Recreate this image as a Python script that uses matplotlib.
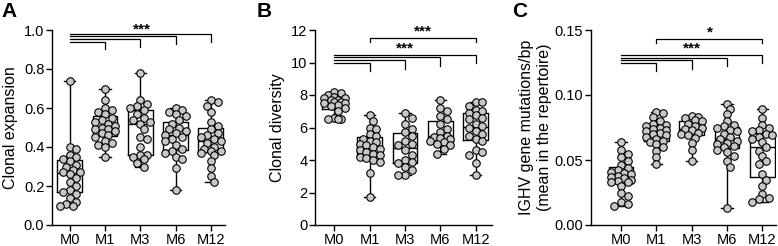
import numpy as np
import matplotlib
matplotlib.use("Agg")
import matplotlib.pyplot as plt

plt.rcParams['font.family'] = ['Liberation Sans', 'DejaVu Sans']

groups = ["M0", "M1", "M3", "M6", "M12"]

expansion = {
    "M0": [0.74, 0.40, 0.39, 0.36, 0.35, 0.34, 0.33, 0.31, 0.30, 0.28, 0.27, 0.27, 0.26,
           0.24, 0.22, 0.20, 0.18, 0.17, 0.16, 0.14, 0.12, 0.11, 0.10, 0.10],
    "M1": [0.70, 0.64, 0.60, 0.59, 0.58, 0.57, 0.55, 0.54, 0.53, 0.52, 0.51, 0.50, 0.49,
           0.49, 0.48, 0.47, 0.46, 0.45, 0.43, 0.42, 0.41, 0.40, 0.35],
    "M3": [0.78, 0.64, 0.62, 0.61, 0.60, 0.59, 0.57, 0.55, 0.54, 0.53, 0.52, 0.49, 0.45,
           0.44, 0.40, 0.36, 0.36, 0.35, 0.34, 0.32, 0.30],
    "M6": [0.60, 0.59, 0.58, 0.57, 0.56, 0.54, 0.52, 0.50, 0.49, 0.48, 0.47, 0.46, 0.45,
           0.44, 0.43, 0.41, 0.39, 0.38, 0.37, 0.35, 0.34, 0.29, 0.18],
    "M12": [0.64, 0.63, 0.61, 0.58, 0.53, 0.51, 0.49, 0.47, 0.46, 0.45, 0.44, 0.43, 0.42,
            0.40, 0.39, 0.38, 0.38, 0.37, 0.36, 0.33, 0.29, 0.25, 0.22],
}

diversity = {
    "M0": [8.2, 8.1, 8.0, 7.9, 7.8, 7.8, 7.7, 7.7, 7.6, 7.6, 7.5, 7.5, 7.4, 7.3, 7.2,
           7.0, 6.6, 6.5, 6.5, 6.5],
    "M1": [6.75, 6.4, 6.0, 5.9, 5.6, 5.5, 5.3, 5.2, 5.1, 5.0, 4.9, 4.8, 4.7, 4.6, 4.5,
           4.4, 4.3, 4.2, 4.1, 4.0, 3.9, 3.2, 1.75],
    "M3": [6.9, 6.6, 6.2, 5.9, 5.7, 5.5, 5.2, 5.0, 4.9, 4.6, 4.3, 4.0, 3.9, 3.8, 3.6,
           3.4, 3.1, 3.1],
    "M6": [7.7, 7.2, 7.0, 6.7, 6.5, 6.2, 5.9, 5.7, 5.5, 5.4, 5.35, 5.3, 5.2, 5.1, 5.0,
           4.9, 4.7, 4.4],
    "M12": [7.6, 7.55, 7.3, 7.1, 7.0, 6.9, 6.8, 6.6, 6.5, 6.2, 6.1, 6.0, 5.8, 5.6, 5.5,
            5.3, 5.2, 4.6, 4.5, 4.3, 3.8, 3.1],
}

mutations = {
    "M0": [0.064, 0.058, 0.055, 0.052, 0.049, 0.046, 0.044, 0.042, 0.041, 0.040, 0.039,
           0.038, 0.037, 0.036, 0.035, 0.034, 0.033, 0.033, 0.030, 0.025, 0.022, 0.018,
           0.016, 0.015],
    "M1": [0.087, 0.086, 0.083, 0.080, 0.078, 0.077, 0.076, 0.075, 0.074, 0.073, 0.072,
           0.071, 0.070, 0.069, 0.068, 0.066, 0.065, 0.064, 0.062, 0.060, 0.057, 0.052,
           0.047],
    "M3": [0.084, 0.083, 0.082, 0.081, 0.080, 0.078, 0.076, 0.075, 0.074, 0.073, 0.071,
           0.070, 0.069, 0.067, 0.063, 0.058, 0.049],
    "M6": [0.093, 0.089, 0.085, 0.080, 0.077, 0.076, 0.075, 0.073, 0.072, 0.070, 0.068,
           0.066, 0.065, 0.063, 0.062, 0.061, 0.060, 0.058, 0.056, 0.053, 0.049, 0.045,
           0.013],
    "M12": [0.089, 0.082, 0.077, 0.075, 0.073, 0.072, 0.070, 0.069, 0.068, 0.066, 0.064,
            0.060, 0.057, 0.053, 0.049, 0.047, 0.039, 0.035, 0.030, 0.024, 0.021, 0.020,
            0.018],
}

W, H = 778, 246
fig = plt.figure(figsize=(W / 100, H / 100), dpi=100)

PX_CAT = 35.3
AX_TOP = 30.0
AX_BOT = 225.0
AX_H_PX = AX_BOT - AX_TOP
MARK_D = 7.5


def swarm_offsets(vals, ppu):
    """Greedy, overlapping beeswarm offsets (category units), capped in width."""
    order = np.argsort(vals)[::-1]
    placed = []
    offs = np.zeros(len(vals))
    step = 0.45 * MARK_D
    cands = [0.0]
    for k in range(1, 4):
        cands += [k * step, -k * step]
    thr = 0.8 * MARK_D
    for i in order:
        yp = vals[i] * ppu
        best, bestd = 0.0, -1
        chosen = None
        for c in cands:
            dmin = min([np.hypot(xo - c, yo - yp) for (xo, yo) in placed] or [1e9])
            if dmin >= thr:
                chosen = c
                break
            if dmin > bestd:
                best, bestd = c, dmin
        if chosen is None:
            chosen = best
        placed.append((chosen, yp))
        offs[i] = chosen / PX_CAT
    return offs


def panel(left_px, xlim, data, ylim, yticks, yticklabels, ylabel, letter,
          letter_x, brackets, texts, labelpad):
    width_px = (xlim[1] - xlim[0]) * PX_CAT
    ax = fig.add_axes([left_px / W, 1 - AX_BOT / H, width_px / W, AX_H_PX / H])
    vals = [np.array(data[g]) for g in groups]
    pos = np.arange(len(groups))
    ax.boxplot(vals, positions=pos, widths=0.7, capwidths=0.32, whis=(0, 100),
               showfliers=False, patch_artist=False,
               boxprops=dict(color='black', lw=1.0),
               medianprops=dict(color='black', lw=1.0),
               whiskerprops=dict(color='black', lw=1.0),
               capprops=dict(color='black', lw=1.0))
    ppu = AX_H_PX / (ylim[1] - ylim[0])
    for p, v in zip(pos, vals):
        offs = swarm_offsets(v, ppu)
        ax.scatter(p + offs, v, s=MARK_D ** 2 * 0.52, facecolor='#c8c8c8',
                   edgecolor='black', linewidths=0.8, zorder=3)
    ax.set_xlim(*xlim)
    ax.set_ylim(*ylim)
    ax.set_yticks(yticks)
    ax.set_yticklabels(yticklabels)
    ax.set_xticks(pos)
    ax.set_xticklabels(groups)
    ax.tick_params(direction='out', length=4, width=1, labelsize=10.5, pad=1.5)
    for s in ['top', 'right']:
        ax.spines[s].set_visible(False)
    for s in ['left', 'bottom']:
        ax.spines[s].set_linewidth(1.0)
    ax.set_ylabel(ylabel, fontsize=11.5, labelpad=labelpad)
    fig.text(letter_x / W, 1 - 2 / H, letter, fontsize=15, fontweight='bold',
             va='top', ha='left')
    for (x0, x1, yl, d0, d1) in brackets:
        ax.plot([x0, x0, x1, x1], [d0, yl, yl, d1], color='black', lw=0.9,
                clip_on=False, solid_joinstyle='miter')
    for (xt, yt, t) in texts:
        ax.text(xt, yt, t, ha='center', va='bottom', fontsize=11, fontweight='bold',
                clip_on=False)
    return ax


# Panel A
panel(52, (-0.5, 4.4), expansion, (0, 1.0), [0, 0.2, 0.4, 0.6, 0.8, 1.0],
      ["0.0", "0.2", "0.4", "0.6", "0.8", "1.0"], "Clonal expansion", "A", 1,
      [(0, 1, 0.940, 0.940, 0.903), (0, 2, 0.953, 0.953, 0.912),
       (0, 3, 0.967, 0.967, 0.930), (0, 4, 0.981, 0.981, 0.940)],
      [(2.05, 0.965, "***")], 4)

# Panel B
panel(315, (-0.55, 4.45), diversity, (0, 12), [0, 2, 4, 6, 8, 10, 12],
      ["0", "2", "4", "6", "8", "10", "12"], "Clonal diversity", "B", 257,
      [(1, 4, 11.48, 11.24, 11.24),
       (0, 1, 9.98, 9.98, 9.48), (0, 2, 10.14, 10.14, 9.63),
       (0, 3, 10.31, 10.31, 9.80), (0, 4, 10.47, 10.47, 10.0)],
      [(2.5, 11.45, "***"), (2.0, 10.43, "***")], 4)

# Panel C
panel(591, (-0.85, 4.4), mutations, (0, 0.15), [0, 0.05, 0.10, 0.15],
      ["0.00", "0.05", "0.10", "0.15"],
      "IGHV gene mutations/bp\n(mean in the repertoire)", "C", 512,
      [(1, 4, 0.1434, 0.140, 0.140),
       (0, 1, 0.1246, 0.1246, 0.1185), (0, 2, 0.1267, 0.1267, 0.1200),
       (0, 3, 0.1287, 0.1287, 0.1223), (0, 4, 0.1307, 0.1307, 0.1250)],
      [(2.52, 0.1430, "*"), (2.02, 0.1303, "***")], 2)

fig.savefig("out.png", dpi=100)
